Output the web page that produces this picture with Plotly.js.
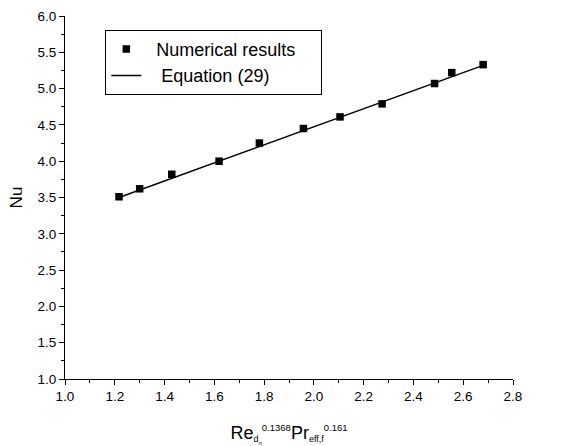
<!DOCTYPE html>
<html>
<head>
<meta charset="utf-8">
<script src="https://cdn.plot.ly/plotly-3.0.1.min.js"></script>
<style>html,body{margin:0;padding:0;background:#fff;}#chart{width:574px;height:446px;}</style>
</head>
<body>
<div id="chart"></div>
<script>
// Numerical results
var xNum = [1.217, 1.300, 1.429, 1.619, 1.781, 1.958, 2.105, 2.274, 2.485, 2.554, 2.680];
var yNum = [3.51, 3.62, 3.82, 4.00, 4.25, 4.45, 4.61, 4.79, 5.07, 5.22, 5.33];
// Equation (29) fitted line endpoints
var xEq = [1.217, 2.680];
var yEq = [3.50, 5.32];
var seriesNames = ['\u00a0\u00a0Numerical results\u00a0\u00a0\u00a0\u00a0', '\u00a0\u00a0\u00a0Equation (29)'];

var font = "Liberation Sans, Arial, sans-serif";

var xTitle = 'Re<sub><span style="font-size:9px">d</span><sub><span style="font-size:6px">n</span></sub></sub>' +
  '<sup><span style="font-size:9.5px">0.1368</span></sup>Pr<sub><span style="font-size:9px">eff,f</span></sub>' +
  '<sup><span style="font-size:9.5px">0.161</span></sup>';

var traces = [
  {x: xNum, y: yNum, type: 'scatter', mode: 'markers', name: seriesNames[0],
   marker: {symbol: 'square', size: 7.5, color: '#000'}},
  {x: xEq, y: yEq, type: 'scatter', mode: 'lines', name: seriesNames[1],
   line: {color: '#000', width: 1.5}}
];

var layout = {
  width: 574, height: 446,
  margin: {l: 65, r: 61, t: 16, b: 67},
  paper_bgcolor: '#fff', plot_bgcolor: '#fff',
  font: {family: font, color: '#000', size: 13.5},
  showlegend: true,
  legend: {x: 0.09, y: 0.962, xanchor: 'left', yanchor: 'top',
           bordercolor: '#000', borderwidth: 1, bgcolor: '#fff',
           font: {size: 18, family: font}, tracegroupgap: 0},
  xaxis: {range: [1.0, 2.8], dtick: 0.2, tick0: 1.0, tickformat: '.1f',
          showgrid: false, zeroline: false, showline: true, linecolor: '#000', linewidth: 1,
          ticks: 'outside', ticklen: 5, tickcolor: '#000',
          minor: {dtick: 0.1, ticks: 'outside', ticklen: 3, tickcolor: '#000', showgrid: false},
          tickfont: {size: 13.5},
          title: {text: xTitle, font: {size: 18}, standoff: 28}},
  yaxis: {range: [1.0, 6.0], dtick: 0.5, tick0: 1.0, tickformat: '.1f',
          showgrid: false, zeroline: false, showline: true, linecolor: '#000', linewidth: 1,
          ticks: 'outside', ticklen: 5, tickcolor: '#000',
          minor: {dtick: 0.25, ticks: 'outside', ticklen: 3, tickcolor: '#000', showgrid: false},
          tickfont: {size: 13.5},
          title: {text: 'Nu', font: {size: 17}, standoff: 10}}
};

Plotly.newPlot('chart', traces, layout, {displayModeBar: false, staticPlot: true});
</script>
</body>
</html>
